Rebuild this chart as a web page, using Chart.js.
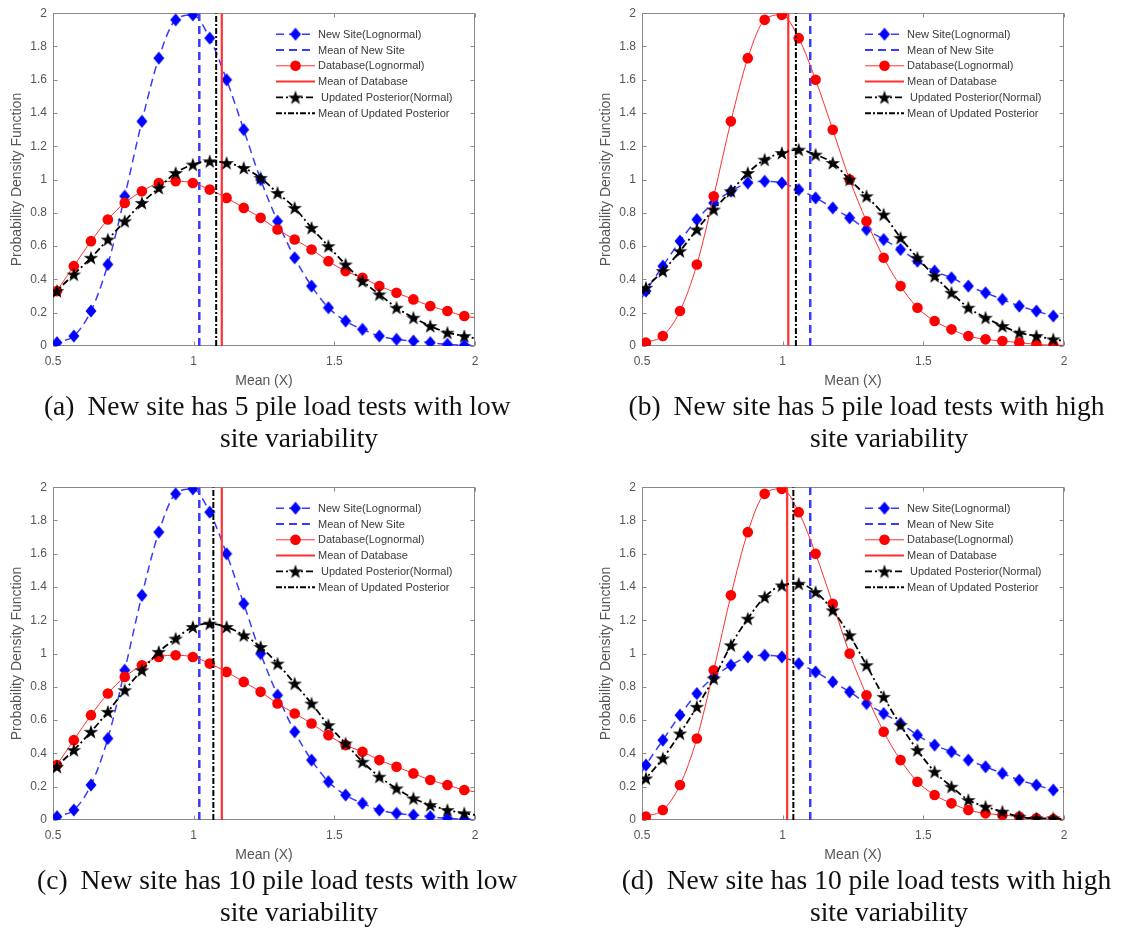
<!DOCTYPE html>
<html>
<head>
<meta charset="utf-8">
<title>PDF of new site, database and updated posterior</title>
<style>
  body { margin:0; background:#fff; width:1123px; height:930px; position:relative; overflow:hidden; }
  .panel { position:absolute; width:490px; height:395px; }
  #pa { left:0; top:0; }
  #pb { left:589px; top:0; }
  #pc { left:0; top:474px; }
  #pd { left:589px; top:474px; }
  .caption { position:absolute; width:600px; text-align:center; white-space:nowrap;
             font-family:"Liberation Serif","Times New Roman",serif; font-size:27.5px; line-height:32px; color:#111; }
  .caption .body { position:relative; }
  .caption .tag { position:absolute; right:100%; margin-right:13px; }
  .left  { left:-1px; }
  .right { left:589px; }
</style>
<script src="https://cdn.jsdelivr.net/npm/chart.js@4.4.1/dist/chart.umd.min.js"></script>
</head>
<body>
<div class="panel" id="pa"><canvas id="ca" width="490" height="395"></canvas></div>
<div class="panel" id="pb"><canvas id="cb" width="490" height="395"></canvas></div>
<div class="panel" id="pc"><canvas id="cc" width="490" height="395"></canvas></div>
<div class="panel" id="pd"><canvas id="cd" width="490" height="395"></canvas></div>

<div class="caption left" style="top:390px"><span class="body"><span class="tag">(a)</span>New site has 5 pile load tests with low</span><br>site variability</div>
<div class="caption right" style="top:390px"><span class="body"><span class="tag">(b)</span>New site has 5 pile load tests with high</span><br>site variability</div>
<div class="caption left" style="top:864px"><span class="body"><span class="tag">(c)</span>New site has 10 pile load tests with low</span><br>site variability</div>
<div class="caption right" style="top:864px"><span class="body"><span class="tag">(d)</span>New site has 10 pile load tests with high</span><br>site variability</div>

<script>
// x positions of the plotted points (first and last are the curve ends, no marker)
const xGrid = [0.5, 0.514, 0.574, 0.635, 0.695, 0.755, 0.816, 0.876, 0.936, 0.997, 1.057, 1.117, 1.178,
               1.238, 1.298, 1.359, 1.419, 1.479, 1.540, 1.600, 1.660, 1.721, 1.781, 1.841, 1.902, 1.962, 2];

// lognormal pdfs (narrow one peaks near 2, wide one near 1)
const narrowLognormal = [0.005, 0.02, 0.06, 0.21, 0.49, 0.90, 1.35, 1.73, 1.96, 1.99, 1.85, 1.60, 1.30, 1.00,
                         0.75, 0.53, 0.36, 0.23, 0.15, 0.10, 0.06, 0.04, 0.03, 0.02, 0.01, 0.005, 0.004];
const wideLognormal = [0.29, 0.33, 0.48, 0.63, 0.76, 0.86, 0.93, 0.98, 0.99, 0.98, 0.94, 0.89, 0.83, 0.77,
                       0.70, 0.64, 0.58, 0.51, 0.45, 0.41, 0.36, 0.32, 0.28, 0.24, 0.21, 0.18, 0.17];

// updated posterior (normal) for each panel
const posteriorA = [0.30, 0.33, 0.43, 0.53, 0.64, 0.75, 0.86, 0.95, 1.04, 1.09, 1.11, 1.10, 1.07, 1.01,
                    0.92, 0.83, 0.71, 0.60, 0.49, 0.39, 0.31, 0.23, 0.17, 0.12, 0.08, 0.06, 0.045];
const posteriorB = [0.32, 0.35, 0.45, 0.57, 0.70, 0.82, 0.93, 1.04, 1.12, 1.16, 1.18, 1.15, 1.10, 1.00,
                    0.90, 0.79, 0.65, 0.53, 0.42, 0.32, 0.23, 0.17, 0.12, 0.08, 0.06, 0.04, 0.03];
const posteriorC = [0.29, 0.32, 0.42, 0.53, 0.65, 0.78, 0.90, 1.01, 1.09, 1.16, 1.18, 1.16, 1.11, 1.04,
                    0.94, 0.82, 0.70, 0.57, 0.46, 0.35, 0.26, 0.19, 0.13, 0.09, 0.06, 0.04, 0.03];
const posteriorD = [0.22, 0.25, 0.37, 0.52, 0.68, 0.85, 1.05, 1.21, 1.34, 1.41, 1.42, 1.37, 1.26, 1.11,
                    0.93, 0.74, 0.57, 0.42, 0.29, 0.20, 0.12, 0.08, 0.05, 0.02, 0.01, 0.01, 0.005];

// means, one per panel (a, b, c, d)
const siteMeans      = [1.02, 1.098, 1.02, 1.098];
const databaseMeans  = [1.10, 1.02, 1.10, 1.016];
const posteriorMeans = [1.08, 1.047, 1.07, 1.038];

const seriesLabels = ['New Site(Lognormal)', 'Mean of New Site', 'Database(Lognormal)', 'Mean of Database',
                      ' Updated Posterior(Normal)', 'Mean of Updated Posterior'];
const xTicks = [0.5, 1, 1.5, 2];

// marker images
function makeDiamond(color) {
  const c = document.createElement('canvas');
  c.width = 12; c.height = 14;
  const g = c.getContext('2d');
  g.fillStyle = color;
  g.beginPath();
  g.moveTo(6, 0.5); g.lineTo(11.5, 7); g.lineTo(6, 13.5); g.lineTo(0.5, 7);
  g.closePath(); g.fill();
  return c;
}
function makeStar(color) {
  const c = document.createElement('canvas');
  c.width = 16; c.height = 16;
  const g = c.getContext('2d');
  g.fillStyle = color;
  g.beginPath();
  for (let k = 0; k < 10; k++) {
    const r = k % 2 === 0 ? 7.6 : 3.0;
    const a = -Math.PI / 2 + k * Math.PI / 5;
    const px = 8 + r * Math.cos(a), py = 8.6 + r * Math.sin(a);
    k === 0 ? g.moveTo(px, py) : g.lineTo(px, py);
  }
  g.closePath(); g.fill();
  return c;
}
const diamond = makeDiamond('#0000ff');
const star = makeStar('#000000');

const lastIdx = xGrid.length - 1;
const markerRadius = r => ctx => (ctx.dataIndex === 0 || ctx.dataIndex === lastIdx) ? 0 : r;
const pts = ys => xGrid.map((x, i) => ({ x: x, y: ys[i] }));
const vline = m => [{ x: m, y: 0 }, { x: m, y: 2 }];

// box with inward ticks (MATLAB style)
const boxPlugin = {
  id: 'box',
  beforeDatasetsDraw(chart) {
    const { ctx, chartArea: a, scales: { x, y } } = chart;
    const L = Math.round(a.left) + 0.5, R = Math.round(a.right) - 0.5;
    const T = Math.round(a.top) + 0.5, B = Math.round(a.bottom) - 0.5;
    ctx.save();
    ctx.strokeStyle = '#8a8a8a';
    ctx.lineWidth = 1;
    ctx.strokeRect(L, T, R - L, B - T);
    ctx.beginPath();
    x.ticks.forEach(t => {
      const px = Math.round(x.getPixelForValue(t.value)) + 0.5;
      ctx.moveTo(px, B); ctx.lineTo(px, B - 4);
      ctx.moveTo(px, T); ctx.lineTo(px, T + 4);
    });
    y.ticks.forEach(t => {
      const py = Math.round(y.getPixelForValue(t.value)) + 0.5;
      ctx.moveTo(L, py); ctx.lineTo(L + 4, py);
      ctx.moveTo(R, py); ctx.lineTo(R - 4, py);
    });
    ctx.stroke();
    ctx.restore();
  }
};

// legend inside the axes, top right
const legendPlugin = {
  id: 'insideLegend',
  afterDatasetsDraw(chart) {
    const { ctx, chartArea: a } = chart;
    const x0 = a.left + 223, y0 = a.top + 21, step = 15.8;
    ctx.save();
    chart.data.datasets.forEach((ds, i) => {
      const yy = y0 + i * step;
      ctx.strokeStyle = ds.borderColor;
      ctx.lineWidth = Math.min(ds.borderWidth, 2);
      ctx.setLineDash(ds.borderDash || []);
      ctx.beginPath();
      ctx.moveTo(x0, yy); ctx.lineTo(x0 + 39, yy);
      ctx.stroke();
      ctx.setLineDash([]);
      const mx = x0 + 19.5;
      if (ds.marker === 'circle') {
        ctx.fillStyle = '#ff0000';
        ctx.beginPath(); ctx.arc(mx, yy, 5.3, 0, Math.PI * 2); ctx.fill();
      } else if (ds.marker) {
        ctx.drawImage(ds.marker, mx - ds.marker.width / 2, yy - ds.marker.height / 2);
      }
      ctx.fillStyle = '#3a3a3a';
      ctx.font = '11px "Liberation Sans", Arial, sans-serif';
      ctx.textBaseline = 'middle';
      ctx.fillText(ds.label, x0 + 42, yy + 0.5);
    });
    ctx.restore();
  }
};

const numLabel = v => String(+Number(v).toFixed(1));

function makeChart(id, site, db, post, k) {
  const datasets = [
    { label: seriesLabels[0], data: pts(site), borderColor: '#3a3aff', borderWidth: 1.5, borderDash: [8, 5],
      pointStyle: diamond, pointRadius: markerRadius(6), marker: diamond, cubicInterpolationMode: 'monotone' },
    { label: seriesLabels[1], data: vline(siteMeans[k]), borderColor: '#3a3aff', borderWidth: 2.5, borderDash: [8, 5],
      pointRadius: 0 },
    { label: seriesLabels[2], data: pts(db), borderColor: '#ff3030', borderWidth: 1, pointStyle: 'circle',
      pointRadius: markerRadius(5.3), pointBackgroundColor: '#ff0000', pointBorderColor: '#ff0000', pointBorderWidth: 0,
      marker: 'circle', cubicInterpolationMode: 'monotone' },
    { label: seriesLabels[3], data: vline(databaseMeans[k]), borderColor: '#ff3030', borderWidth: 2.2, pointRadius: 0 },
    { label: seriesLabels[4], data: pts(post), borderColor: '#000000', borderWidth: 1.8, borderDash: [7, 3, 2, 3],
      pointStyle: star, pointRadius: markerRadius(7), marker: star, cubicInterpolationMode: 'monotone' },
    { label: seriesLabels[5], data: vline(posteriorMeans[k]), borderColor: '#000000', borderWidth: 2, borderDash: [6, 2, 2, 2],
      pointRadius: 0 }
  ];
  datasets.forEach((d, i) => { d.order = 10 - i; d.fill = false; });

  return new Chart(document.getElementById(id), {
    type: 'line',
    data: { datasets: datasets },
    options: {
      responsive: false,
      animation: false,
      devicePixelRatio: 1,
      layout: { padding: { top: 13, right: 15, bottom: 0, left: 0 } },
      plugins: { legend: { display: false }, tooltip: { enabled: false } },
      scales: {
        x: {
          type: 'linear', min: 0.5, max: 2,
          afterBuildTicks: s => { s.ticks = xTicks.map(v => ({ value: v })); },
          afterFit: s => { s.height = 49; },
          grid: { display: false, drawTicks: false },
          border: { display: false },
          ticks: { color: '#555', font: { family: 'Liberation Sans', size: 12 }, padding: 8,
                   maxRotation: 0, autoSkip: false, callback: numLabel },
          title: { display: true, text: 'Mean (X)', color: '#555',
                   font: { family: 'Liberation Sans', size: 14 }, padding: { top: 0, bottom: 5.6 } }
        },
        y: {
          min: 0, max: 2,
          afterFit: s => { s.width = 53; },
          grid: { display: false, drawTicks: false },
          border: { display: false },
          ticks: { stepSize: 0.2, color: '#555', font: { family: 'Liberation Sans', size: 12 }, padding: 6,
                   callback: numLabel },
          title: { display: true, text: 'Probability Density Function', color: '#555',
                   font: { family: 'Liberation Sans', size: 14 }, padding: { top: 8.6, bottom: 0 } }
        }
      }
    },
    plugins: [boxPlugin, legendPlugin]
  });
}

makeChart('ca', narrowLognormal, wideLognormal, posteriorA, 0);
makeChart('cb', wideLognormal, narrowLognormal, posteriorB, 1);
makeChart('cc', narrowLognormal, wideLognormal, posteriorC, 2);
makeChart('cd', wideLognormal, narrowLognormal, posteriorD, 3);
</script>
</body>
</html>
